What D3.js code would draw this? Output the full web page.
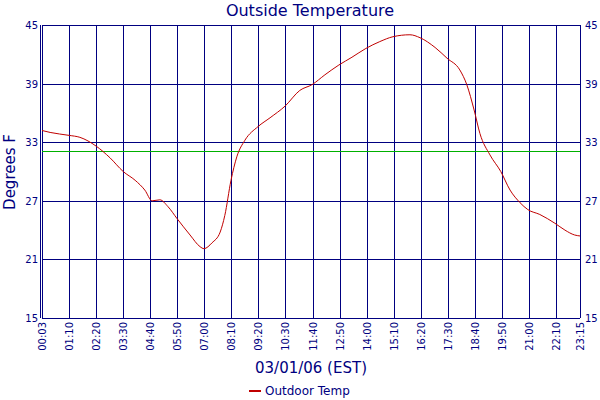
<!DOCTYPE html><html><head><script src="https://cdn.jsdelivr.net/npm/d3@7"></script>
<style>body{margin:0;background:#fff}text{font-family:"DejaVu Sans",Verdana,sans-serif;fill:#000080}</style></head><body>
<svg id="c" width="600" height="400"></svg>
<script>
const minutes=[3,24,73,101,143,179,213,244,269,288,308,329,352,386,412,422,443,464,476,492,507,528,562,593,632,670,702,735,771,805,841,877,911,955,981,1020,1051,1084,1102,1121,1136,1162,1190,1214,1240,1260,1291,1330,1356,1381,1395];
const temps=[34.2,34.0,33.7,33.5,32.6,31.4,30.0,29.1,28.1,27.0,27.1,26.4,25.2,23.5,22.3,22.1,22.7,23.8,25.5,29.1,31.5,33.2,34.6,35.5,36.7,38.3,38.9,39.9,40.9,41.7,42.6,43.3,43.8,44.0,43.7,42.7,41.6,40.4,38.9,36.3,33.9,31.7,30.0,28.1,26.8,26.1,25.6,24.7,24.0,23.5,23.4];
const tickMinutes=[3,73,143,213,283,353,423,493,563,633,703,773,843,913,983,1053,1123,1193,1263,1333,1395];
const tickLabels=["00:03","01:10","02:20","03:30","04:40","05:50","07:00","08:10","09:20","10:30","11:40","12:50","14:00","15:10","16:20","17:30","18:40","19:50","21:00","22:10","23:15"];
const yTicks=[15,21,27,33,39,45];
const svg=d3.select("#c");
const L=42,R=580,T=25,B=318,navy="#000080";
const x=d3.scaleLinear().domain([3,1395]).range([L,R]);
const y=d3.scaleLinear().domain([15,45]).range([B,T]);
const g=svg.append("g").attr("shape-rendering","crispEdges");
g.selectAll(".v").data(tickMinutes).join("line").attr("x1",d=>Math.round(x(d))+0.5).attr("x2",d=>Math.round(x(d))+0.5).attr("y1",T).attr("y2",B).attr("stroke",navy).attr("stroke-width",1.3);
g.selectAll(".h").data(yTicks).join("line").attr("x1",L).attr("x2",R).attr("y1",d=>Math.round(y(d))+0.5).attr("y2",d=>Math.round(y(d))+0.5).attr("stroke",navy).attr("stroke-width",1.3);
g.append("line").attr("x1",L).attr("x2",R).attr("y1",y(32)).attr("y2",y(32)).attr("stroke","#00b000");
g.append("line").attr("x1",L-1.5).attr("x2",L-1.5).attr("y1",T).attr("y2",B).attr("stroke",navy);
svg.append("path").datum(minutes.map((m,i)=>[m,temps[i]])).attr("d",d3.line().x(d=>x(d[0])).y(d=>y(d[1])).curve(d3.curveMonotoneX)).attr("fill","none").attr("stroke","#c00000").attr("stroke-width",1);
svg.selectAll(".yl").data(yTicks).join("text").attr("x",L-4).attr("y",d=>y(d)+4).attr("text-anchor","end").attr("font-size",10).text(d=>d);
svg.selectAll(".yr").data(yTicks).join("text").attr("x",R+5).attr("y",d=>y(d)+4).attr("font-size",10).text(d=>d);
svg.selectAll(".xl").data(tickMinutes).join("text").attr("transform",(d,i)=>`translate(${x(d)+4},${B+4}) rotate(-90)`).attr("text-anchor","end").attr("font-size",10).text((d,i)=>tickLabels[i]);
svg.append("text").attr("x",310).attr("y",16).attr("text-anchor","middle").attr("font-size",16).text("Outside Temperature");
svg.append("text").attr("transform","translate(15,172) rotate(-90)").attr("text-anchor","middle").attr("font-size",15).text("Degrees F");
svg.append("text").attr("x",311).attr("y",373).attr("text-anchor","middle").attr("font-size",15).text("03/01/06 (EST)");
svg.append("line").attr("x1",249).attr("x2",261).attr("y1",391).attr("y2",391).attr("stroke","#c00000").attr("stroke-width",2);
svg.append("text").attr("x",265).attr("y",395).attr("font-size",12).text("Outdoor Temp");
</script></body></html>
